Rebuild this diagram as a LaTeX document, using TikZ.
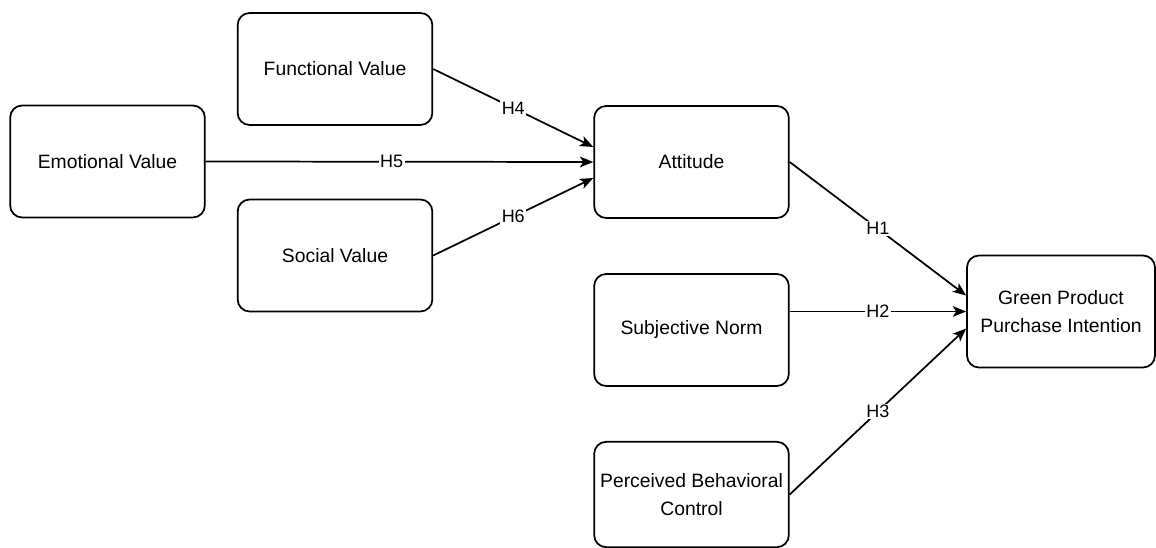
\documentclass[tikz,border=0pt]{standalone}
\usepackage{fontspec}
\setmainfont{Liberation Sans}
\usetikzlibrary{positioning, calc}
\usetikzlibrary{arrows.meta}

\tikzset{
  valbox/.style={draw, line width=1.3pt, rounded corners=9pt, align=center,
    minimum width=146pt, minimum height=84pt, font=\fontsize{14.5}{21}\selectfont},
  hyp/.style={-{Stealth[length=10pt, width=8pt, inset=2.5pt]}, line width=1.3pt},
  hlabel/.style={fill=white, inner sep=1pt, font=\fontsize{13.5}{15}\selectfont}
}

\begin{document}
\begin{tikzpicture}[x=0.75pt, y=-0.75pt]

% Fix the size of the picture
\useasboundingbox (0, 0) rectangle (1156, 548);
\clip (0, 0) rectangle (1156, 548);

% Value boxes
\node[valbox] (emo) at (107.5, 161.5) {Emotional Value};
\node[valbox] (fun) at (335, 69) {Functional Value};
\node[valbox] (soc) at (335, 255.5) {Social Value};

% Middle boxes
\node[valbox] (att) at (691.5, 162) {Attitude};
\node[valbox] (norm) at (691.5, 330) {Subjective Norm};
\node[valbox, minimum height=79pt] (pbc) at (691.5, 494.5) {Perceived Behavioral\\Control};

% Outcome
\node[valbox, minimum width=141pt] (gpi) at (1061, 311.5) {Green Product\\Purchase Intention};

% Hypotheses
\coordinate (att4) at ($(att.west)+(0, -15)$);
\coordinate (att6) at ($(att.west)+(0, 16)$);
\coordinate (gpi1) at ($(gpi.west)+(0, -16)$);
\coordinate (gpi3) at ($(gpi.west)+(0, 17)$);
\coordinate (norm2) at (norm.east |- gpi.west);

\draw[hyp] (fun.east) -- (att4) node[hlabel, midway] {H4};
\draw[hyp] (emo.east) -- (att.west) node[hlabel, pos=0.48] {H5};
\draw[hyp] (soc.east) -- (att6) node[hlabel, midway] {H6};

\draw[hyp] (att.east) -- (gpi1) node[hlabel, midway] {H1};
\draw[hyp] (norm2) -- (gpi.west) node[hlabel, midway] {H2};
\draw[hyp] (pbc.east) -- (gpi3) node[hlabel, midway] {H3};

\end{tikzpicture}
\end{document}
